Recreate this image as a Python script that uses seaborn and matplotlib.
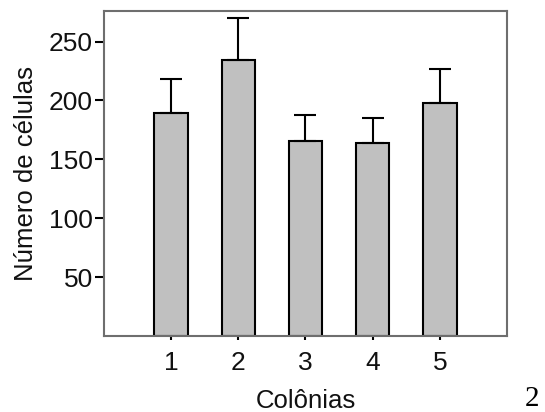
import numpy as np
import pandas as pd
import matplotlib
matplotlib.use("Agg")
import matplotlib.pyplot as plt
import seaborn as sns

# Mean cell counts per colony with upper standard error
colonias = ["1", "2", "3", "4", "5"]
medias = [189, 234, 166, 164, 198]
erros = [29, 36, 22, 21, 29]
yticks = [50, 100, 150, 200, 250]

df = pd.DataFrame({"Colônias": colonias, "Número de células": medias})

sns.set_theme(style="white")
plt.rcParams["font.family"] = ["Liberation Sans", "DejaVu Sans"]

fig = plt.figure(figsize=(5.45, 4.12), dpi=100)
ax = fig.add_axes([0.1908, 0.1845, 0.7395, 0.7888])

sns.barplot(data=df, x="Colônias", y="Número de células", color="#c0c0c0",
            edgecolor="black", linewidth=1.5, width=0.5, saturation=1, ax=ax)

pos = np.arange(len(colonias))
ax.errorbar(pos, medias, yerr=[np.zeros(len(erros)), erros], fmt="none",
            ecolor="black", elinewidth=1.5, capsize=7.9, capthick=1.5, zorder=1)

ax.set_xlim(-1, 5)
ax.set_ylim(0, 276)
ax.set_yticks(yticks)
ax.set_yticklabels([str(v) for v in yticks])

for side, sp in ax.spines.items():
    sp.set_visible(True)
    sp.set_color("#6e6e6e")
    sp.set_linewidth(1.5)

ax.tick_params(axis="y", which="major", left=True, length=6.5, width=1.5,
               color="black", pad=1.5, labelsize=19, labelcolor="#111111")
ax.tick_params(axis="x", which="major", bottom=True, length=3, width=1.5,
               color="black", pad=8, labelsize=19, labelcolor="#111111")

ax.set_xlabel("Colônias", fontsize=18.5, color="#111111", labelpad=10)
ax.set_ylabel("Número de células", fontsize=18.5, color="#111111", labelpad=8)

fig.text(0.962, 0.014, "2", fontfamily=["Liberation Serif", "DejaVu Serif"],
         fontsize=21, ha="left", va="baseline", color="black")

fig.savefig("out.png", dpi=100)
